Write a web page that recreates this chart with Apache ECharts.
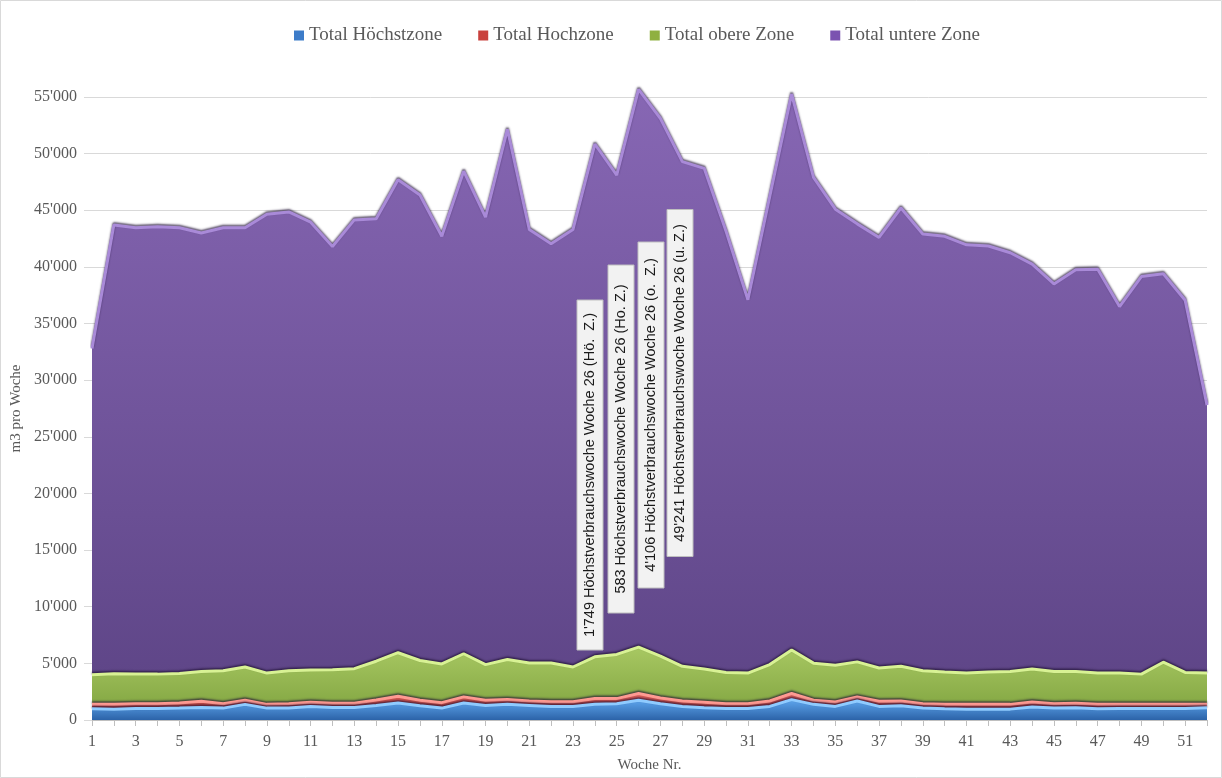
<!DOCTYPE html>
<html>
<head>
<meta charset="utf-8">
<script src="https://cdn.jsdelivr.net/npm/echarts@6/dist/echarts.min.js"></script>
<style>
html,body{margin:0;padding:0;background:#fff;overflow:hidden;}
#chart{width:1222px;height:778px;}
</style>
</head>
<body>
<div id="chart"></div>
<script>
const weeks = ['1','2','3','4','5','6','7','8','9','10','11','12','13','14','15','16','17','18','19','20','21','22','23','24','25','26','27','28','29','30','31','32','33','34','35','36','37','38','39','40','41','42','43','44','45','46','47','48','49','50','51','52'];

const seriesNames = ['Total Höchstzone','Total Hochzone','Total obere Zone','Total untere Zone'];

const hoechstzone = [990,960,1020,1020,1050,1110,1050,1380,1050,1050,1200,1110,1110,1290,1500,1260,1050,1500,1290,1380,1290,1200,1200,1380,1440,1749,1440,1200,1080,1020,1020,1200,1800,1380,1200,1680,1200,1260,1050,990,960,960,960,1140,1050,1080,990,1020,1020,1020,1020,1080];

const hochzone = [390,420,420,420,450,540,390,360,330,390,360,360,360,480,600,480,480,540,450,420,390,420,420,510,450,583,510,480,480,420,420,480,540,360,390,360,450,420,390,390,420,420,420,450,390,390,390,360,360,360,360,300];

const obereZone = [2610,2700,2610,2610,2610,2640,2910,2940,2760,2910,2850,2970,3060,3420,3840,3510,3420,3810,3150,3540,3360,3420,3060,3690,3900,4106,3690,3060,2940,2760,2700,3210,3840,3280,3240,3090,2940,3060,2910,2850,2760,2850,2910,2910,2850,2820,2760,2760,2670,3720,2820,2760];

const untereZone = [28810,39620,39400,39500,39340,38710,39100,38770,40510,40500,39540,37360,39620,39060,41760,41100,37750,42600,39510,46810,38260,37010,38620,45270,42310,49241,47460,44560,44200,38950,32960,41310,49070,42880,40270,38670,38010,40460,38550,38470,37810,37620,36960,35750,34210,35460,35660,32360,35100,34300,32850,23660];

const annotations = [
  "1'749 Höchstverbrauchswoche Woche 26 (Hö.  Z.)",
  "583 Höchstverbrauchswoche Woche 26 (Ho. Z.)",
  "4'106 Höchstverbrauchswoche Woche 26 (o.  Z.)",
  "49'241 Höchstverbrauchswoche Woche 26 (u. Z.)"
];

const chart = echarts.init(document.getElementById('chart'), null, {renderer:'canvas', width:1222, height:778});
const LG = (a,b) => new echarts.graphic.LinearGradient(0,0,0,1,[{offset:0,color:a},{offset:1,color:b}]);

const styles = [
  {area: LG('#5ea6ee','#2c63a8'), line:'#8fcbff', legend:'#3d7cc9'},
  {area: LG('#e8665f','#b63f3b'), line:'#ff9a92', legend:'#c9413d'},
  {area: LG('#a8c862','#86a945'), line:'#d8f294', legend:'#8fb040'},
  {area: LG('#8767b4','#5f4688'), line:'#a98ad8', legend:'#7b53b0'}
];
const dataSets = [hoechstzone, hochzone, obereZone, untereZone];

const serif = 'Liberation Serif';
const fmt = v => {
  if (v === 0) return '0';
  return String(v).replace(/\B(?=(\d{3})+(?!\d))/g, "'");
};

const series = dataSets.map((d,i) => ({
  name: seriesNames[i],
  type: 'line',
  stack: 'total',
  data: d,
  symbol: 'none',
  clip: false,
  z: 10 - i,
  itemStyle: {color: styles[i].legend},
  lineStyle: {color: styles[i].line, width: 3, shadowColor: 'rgba(30,15,50,0.7)', shadowBlur: 2, shadowOffsetY: -1.5},
  areaStyle: {color: styles[i].area, opacity: 1}
}));

const boxes = [
  {cx: 590, cy: 475, h: 350},
  {cx: 621, cy: 439, h: 348},
  {cx: 651, cy: 415, h: 346},
  {cx: 680, cy: 383, h: 347}
];
const graphics = [
  {type:'rect', shape:{x:0.5,y:0.5,width:1221,height:777}, style:{fill:'none', stroke:'#d9d9d9', lineWidth:1}, silent:true, z:0}
];
boxes.forEach((b,i) => {
  graphics.push({type:'rect', shape:{x:b.cx-13, y:b.cy-b.h/2, width:26, height:b.h}, style:{fill:'#f2f2f2', stroke:'#bfbfbf', lineWidth:1}, z:100});
  graphics.push({type:'text', x:b.cx, y:b.cy, rotation: Math.PI/2, style:{text: annotations[i], fill:'#1a1a1a', font:'14.5px "Liberation Sans", Arial, sans-serif', textAlign:'center', textVerticalAlign:'middle', align:'center', verticalAlign:'middle'}, z:101});
});

chart.setOption({
  backgroundColor: '#ffffff',
  animation: false,
  legend: {
    data: seriesNames,
    top: 21,
    left: 289,
    itemGap: 36,
    itemWidth: 10,
    itemHeight: 10,
    icon: 'rect',
    textStyle: {fontFamily: serif, fontSize: 19, color: '#595959'}
  },
  grid: {left: 92, right: 15, top: 97, bottom: 54, containLabel: false},
  xAxis: {
    type: 'category',
    data: weeks,
    boundaryGap: false,
    name: 'Woche Nr.',
    nameLocation: 'middle',
    nameGap: 38,
    nameTextStyle: {fontFamily: serif, fontSize: 15, color: '#595959'},
    axisLine: {lineStyle: {color: '#bfbfbf'}},
    axisTick: {show: true, interval: 0, length: 6, lineStyle: {color: '#bfbfbf'}},
    axisLabel: {interval: 1, margin: 14, fontFamily: serif, fontSize: 16, color: '#595959'},
    splitLine: {show: false}
  },
  yAxis: {
    type: 'value',
    min: 0,
    max: 55000,
    interval: 5000,
    name: 'm3 pro Woche',
    nameLocation: 'middle',
    nameGap: 67,
    nameTextStyle: {fontFamily: serif, fontSize: 15, color: '#595959'},
    axisLine: {show: false},
    axisTick: {show: true, length: 8, lineStyle: {color: '#d9d9d9'}},
    axisLabel: {margin: 15, fontFamily: serif, fontSize: 16, color: '#595959', formatter: fmt},
    splitLine: {show: true, lineStyle: {color: '#d9d9d9', width: 1}}
  },
  series: series,
  graphic: graphics
});
</script>
</body>
</html>
